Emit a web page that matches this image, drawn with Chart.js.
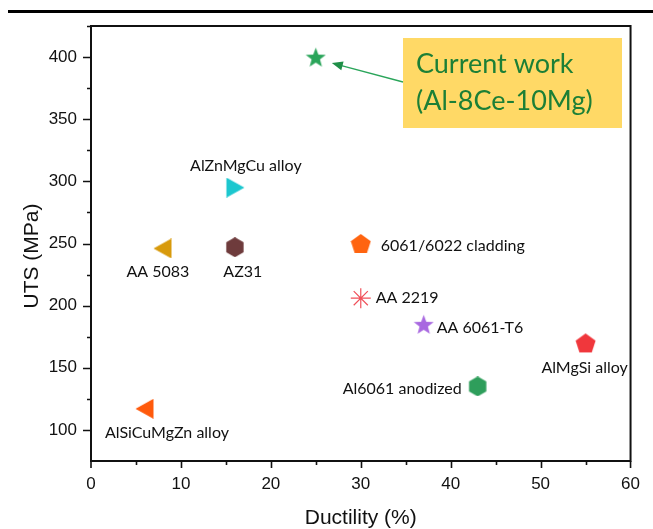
<!DOCTYPE html>
<html>
<head>
<meta charset="utf-8">
<script src="https://cdn.jsdelivr.net/npm/chart.js@4.4.1/dist/chart.umd.min.js"></script>
<style>
  html, body { margin: 0; padding: 0; background: #fff; }
  #wrap { width: 653px; height: 529px; }
</style>
</head>
<body>
<div id="wrap"><canvas id="utsChart" width="653" height="529"></canvas></div>
<script>
// Ultimate tensile strength vs. ductility for Al/Mg alloys.
var MATERIALS = ['Current work', 'AlZnMgCu alloy', 'AA 5083', 'AZ31', '6061/6022 cladding',
                 'AA 2219', 'AA 6061-T6', 'AlMgSi alloy', 'Al6061 anodized', 'AlSiCuMgZn alloy'];
var DUCTILITY = [25, 16, 8, 16, 30, 30, 37, 55, 43, 6];
var UTS = [400, 295, 246, 247, 250, 206, 185, 170, 135, 117];
var X_TICKS = [0, 10, 20, 30, 40, 50, 60];
var Y_TICKS = [100, 150, 200, 250, 300, 350, 400];
var NOTE_LINES = ['Current work', '(Al-8Ce-10Mg)'];

// marker look per material
var MARKERS = [
  { shape: 'star', color: '#2aa55a', size: 21 },
  { shape: 'triRight', color: '#1cc7cf', size: 20 },
  { shape: 'triLeft', color: '#d89a0c', size: 20 },
  { shape: 'hexagon', color: '#6e3b3c', size: 20 },
  { shape: 'pentagon', color: '#ff6410', size: 21 },
  { shape: 'asterisk', color: '#f0505a', size: 20 },
  { shape: 'star', color: '#a868e0', size: 21 },
  { shape: 'pentagon', color: '#f0373c', size: 21 },
  { shape: 'hexagon', color: '#2e9e5b', size: 20 },
  { shape: 'triLeft', color: '#ff5a0c', size: 20 }
];

// label placement, pixel offset from the marker centre
var LABEL_POS = [
  null,
  { dx: 11, dy: -22, align: 'center' },
  { dx: -5, dy: 23, align: 'center' },
  { dx: 8, dy: 25, align: 'center' },
  { dx: 20, dy: 2, align: 'left' },
  { dx: 15, dy: 0, align: 'left' },
  { dx: 13, dy: 4, align: 'left' },
  { dx: -1, dy: 25, align: 'center' },
  { dx: -16, dy: 2, align: 'right' },
  { dx: 22, dy: 24, align: 'center' }
];

var NOTE_BOX = { left: 403, top: 38, width: 219, height: 90 };
var AXIS_FONT = '"Liberation Sans", Arial, sans-serif';
var LABEL_FONT = 'Lato, "Open Sans", sans-serif';

function markerCanvas(m) {
  var c = document.createElement('canvas');
  var s = m.size;
  c.width = s; c.height = s;
  var g = c.getContext('2d');
  var r = s / 2;
  g.fillStyle = m.color;
  g.beginPath();
  var i, a;
  if (m.shape === 'star') {
    for (i = 0; i < 10; i++) {
      var rr = i % 2 ? r * 0.42 : r;
      a = -Math.PI / 2 + i * Math.PI / 5;
      g.lineTo(r + rr * Math.cos(a), r + 1 + rr * Math.sin(a));
    }
  } else if (m.shape === 'pentagon' || m.shape === 'hexagon') {
    var n = m.shape === 'pentagon' ? 5 : 6;
    var cy = m.shape === 'pentagon' ? r + 1 : r;
    for (i = 0; i < n; i++) {
      a = -Math.PI / 2 + i * 2 * Math.PI / n;
      g.lineTo(r + r * Math.cos(a), cy + r * Math.sin(a));
    }
  } else if (m.shape === 'triRight') {
    g.moveTo(1.5, 0); g.lineTo(s - 0.5, r); g.lineTo(1.5, s);
  } else if (m.shape === 'triLeft') {
    g.moveTo(s - 1.5, 0); g.lineTo(0.5, r); g.lineTo(s - 1.5, s);
  }
  g.closePath();
  g.fill();
  return c;
}

var points = DUCTILITY.map(function (x, i) { return { x: x, y: UTS[i] }; });
var styles = MARKERS.map(function (m) { return m.shape === 'asterisk' ? 'star' : markerCanvas(m); });

var decorPlugin = {
  id: 'decor',
  afterDraw: function (chart) {
    var ctx = chart.ctx;
    var a = chart.chartArea;
    var xs = chart.scales.x, ys = chart.scales.y;
    ctx.save();

    // rule across the top of the figure
    ctx.fillStyle = '#000';
    ctx.fillRect(8, 10, 645, 3);

    // plot frame
    ctx.strokeStyle = '#111';
    ctx.lineWidth = 2;
    ctx.strokeRect(a.left, a.top, a.right - a.left, a.bottom - a.top);

    // outward tick marks, majors and minors
    ctx.lineWidth = 1.6;
    ctx.beginPath();
    var v, p;
    for (v = 5; v < 60; v += 5) {
      p = Math.round(xs.getPixelForValue(v)) + 0.5;
      ctx.moveTo(p, a.bottom);
      ctx.lineTo(p, a.bottom + (v % 10 === 0 ? 7 : 4));
    }
    [0, 60].forEach(function (e) {
      p = xs.getPixelForValue(e);
      ctx.moveTo(p, a.bottom);
      ctx.lineTo(p, a.bottom + 7);
    });
    for (v = 100; v <= 425; v += 25) {
      p = Math.round(ys.getPixelForValue(v)) + 0.5;
      ctx.moveTo(a.left, p);
      ctx.lineTo(a.left - (v % 50 === 0 ? 8 : 4), p);
    }
    ctx.stroke();

    // y axis title
    ctx.fillStyle = '#111';
    ctx.font = '21px ' + AXIS_FONT;
    ctx.textAlign = 'center';
    ctx.textBaseline = 'middle';
    ctx.translate(32, 256);
    ctx.rotate(-Math.PI / 2);
    ctx.fillText('UTS (MPa)', 0, 0);
    ctx.restore();

    ctx.save();
    // material labels
    ctx.fillStyle = '#111';
    ctx.font = '16px ' + LABEL_FONT;
    ctx.textBaseline = 'middle';
    MATERIALS.forEach(function (name, i) {
      var lp = LABEL_POS[i];
      if (!lp) return;
      ctx.textAlign = lp.align;
      ctx.fillText(name, xs.getPixelForValue(DUCTILITY[i]) + lp.dx, ys.getPixelForValue(UTS[i]) + lp.dy);
    });

    // highlighted note box for the current alloy
    ctx.fillStyle = '#ffd966';
    ctx.fillRect(NOTE_BOX.left, NOTE_BOX.top, NOTE_BOX.width, NOTE_BOX.height);
    ctx.fillStyle = '#1c7f36';
    ctx.font = '27px ' + LABEL_FONT;
    ctx.textAlign = 'left';
    ctx.textBaseline = 'alphabetic';
    ctx.fillText(NOTE_LINES[0], NOTE_BOX.left + 13, NOTE_BOX.top + 35);
    ctx.fillText(NOTE_LINES[1], NOTE_BOX.left + 13, NOTE_BOX.top + 72);

    // arrow from the note to the star marker
    var tipX = xs.getPixelForValue(DUCTILITY[0]) + 16;
    var tipY = ys.getPixelForValue(UTS[0]) + 6;
    var tailX = NOTE_BOX.left, tailY = NOTE_BOX.top + 44;
    var ang = Math.atan2(tipY - tailY, tipX - tailX);
    ctx.strokeStyle = '#2aa55a';
    ctx.fillStyle = '#1f8f48';
    ctx.lineWidth = 1.3;
    ctx.beginPath();
    ctx.moveTo(tailX, tailY);
    ctx.lineTo(tipX - 9 * Math.cos(ang), tipY - 9 * Math.sin(ang));
    ctx.stroke();
    ctx.beginPath();
    ctx.moveTo(tipX, tipY);
    ctx.lineTo(tipX - 11 * Math.cos(ang) + 4.5 * Math.sin(ang), tipY - 11 * Math.sin(ang) - 4.5 * Math.cos(ang));
    ctx.lineTo(tipX - 11 * Math.cos(ang) - 4.5 * Math.sin(ang), tipY - 11 * Math.sin(ang) + 4.5 * Math.cos(ang));
    ctx.closePath();
    ctx.fill();
    ctx.restore();
  }
};

new Chart(document.getElementById('utsChart').getContext('2d'), {
  type: 'scatter',
  data: {
    datasets: [{
      data: points,
      pointStyle: styles,
      pointRadius: MARKERS.map(function (m) { return m.size / 2; }),
      backgroundColor: MARKERS.map(function (m) { return m.color; }),
      borderColor: MARKERS.map(function (m) { return m.color; }),
      borderWidth: MARKERS.map(function (m) { return m.shape === 'asterisk' ? 1.2 : 0; })
    }]
  },
  options: {
    responsive: false,
    animation: false,
    layout: { padding: { left: 0, top: 26, right: 22, bottom: 0 } },
    plugins: { legend: { display: false }, tooltip: { enabled: false } },
    scales: {
      x: {
        type: 'linear', min: 0, max: 60,
        afterBuildTicks: function (s) { s.ticks = X_TICKS.map(function (v) { return { value: v }; }); },
        afterFit: function (s) { s.height = 68; },
        grid: { display: false, drawTicks: false },
        border: { display: false },
        ticks: { padding: 13, autoSkip: false, maxRotation: 0, color: '#111', font: { family: AXIS_FONT, size: 17 } },
        title: { display: true, text: 'Ductility (%)', color: '#111', font: { family: AXIS_FONT, size: 21, lineHeight: 1 }, padding: { top: 0, bottom: 0 } }
      },
      y: {
        type: 'linear', min: 75, max: 425,
        afterBuildTicks: function (s) { s.ticks = Y_TICKS.map(function (v) { return { value: v }; }); },
        afterFit: function (s) { s.width = 91; },
        grid: { display: false, drawTicks: false },
        border: { display: false },
        ticks: { padding: 14, color: '#111', font: { family: AXIS_FONT, size: 17 } }
      }
    }
  },
  plugins: [decorPlugin]
});
</script>
</body>
</html>
